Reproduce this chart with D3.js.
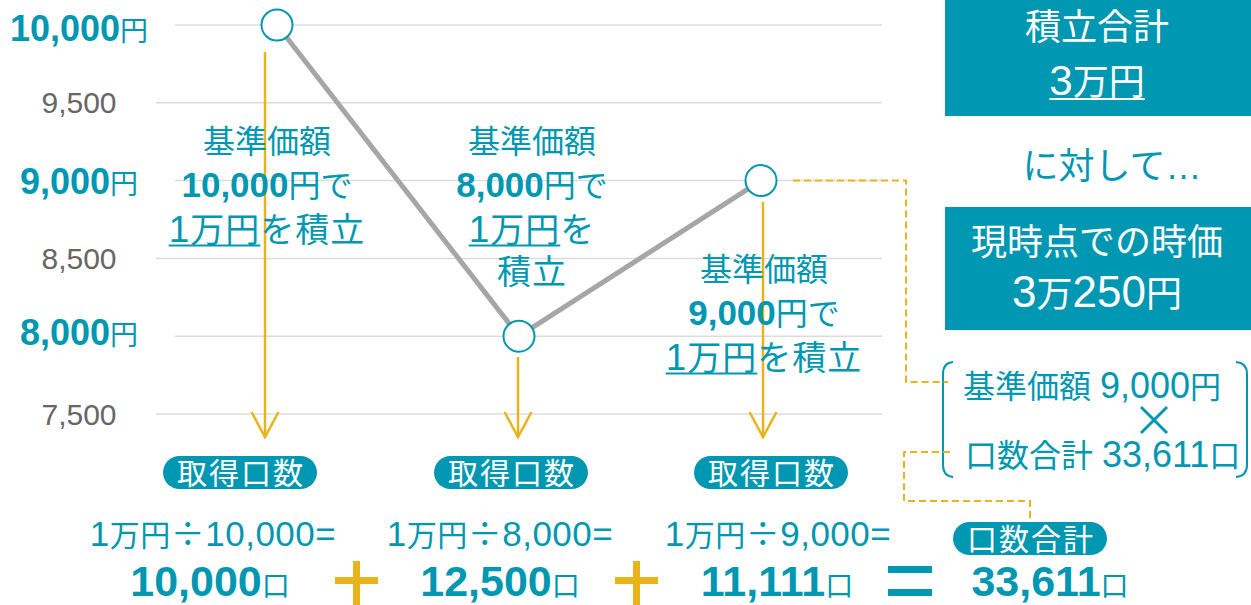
<!DOCTYPE html>
<html lang="ja">
<head>
<meta charset="utf-8">
<script src="https://cdn.jsdelivr.net/npm/d3@7"></script>
<style>
  html, body { margin: 0; padding: 0; background: #fff; }
  svg { display: block; }
  text { font-family: 'Liberation Sans', 'Noto Sans CJK JP', sans-serif; }
</style>
</head>
<body>
<svg id="chart" width="1251" height="605"></svg>
<script>
// ---------------- data ----------------
const purchases = ["1回目", "2回目", "3回目"];
const prices = [10000, 8000, 9000];          // 基準価額
const monthlyAmount = 10000;                 // 毎回の積立額（1万円）
const unitsBought = [10000, 12500, 11111];   // 取得口数
const totalUnits = 33611;                    // 口数合計
const totalInvested = 30000;                 // 積立合計
const currentValue = 30250;                  // 現時点での時価
const currentPrice = 9000;
const yTicks = [7500, 8000, 8500, 9000, 9500, 10000];
const highlightTicks = [8000, 9000, 10000];

// ---------------- styles / layout ----------------
const TEAL = "#0097b2";
const YELLOW = "#e9b31c";
const GRAY = "#a6a6a6";
const GRID = "#dcdcdc";
const CJK = "'Noto Sans CJK JP', sans-serif";

const svg = d3.select("#chart");

const x = d3.scalePoint().domain(purchases).range([277, 761]);
const y = d3.scaleLinear().domain([7500, 10000]).range([414, 25]);
const fmt = d3.format(",");
const man = v => ({ m: Math.floor(v / 10000), r: v % 10000 });

// rich text helper
function rich(g, px, py, parts, opts = {}) {
  const t = g.append("text")
    .attr("x", px).attr("y", py)
    .attr("text-anchor", opts.anchor || "middle")
    .attr("fill", opts.fill || TEAL);
  if (opts.ls) t.attr("letter-spacing", opts.ls);
  if (opts.family) t.attr("font-family", opts.family);
  parts.forEach(p => {
    const s = t.append("tspan").text(p.t).attr("font-size", p.size);
    if (p.bold) s.attr("font-weight", "bold");
    if (p.family) s.attr("font-family", p.family);
  });
  if (opts.underline) {
    const n = opts.underline;
    const node = t.node();
    const x0 = node.getStartPositionOfChar(0).x;
    const x1 = node.getEndPositionOfChar(n - 1).x;
    const uy = py + (opts.ulOff || 3.5);
    g.append("line")
      .attr("x1", x0).attr("x2", x1)
      .attr("y1", uy).attr("y2", uy)
      .attr("stroke", opts.fill || TEAL).attr("stroke-width", 2);
  }
  return t;
}

// ---------------- grid + y labels ----------------
const gGrid = svg.append("g");
gGrid.selectAll("line").data(yTicks).join("line")
  .attr("x1", d => highlightTicks.includes(d) ? 175 : 156)
  .attr("x2", 882)
  .attr("y1", d => y(d)).attr("y2", d => y(d))
  .attr("stroke", GRID).attr("stroke-width", 1.5);

const labelShift = { 10000: 3, 9000: 0, 8000: -4 };
const gY = svg.append("g");
yTicks.forEach(v => {
  if (highlightTicks.includes(v)) {
    rich(gY, 79, y(v) + 13 + labelShift[v], [
      { t: fmt(v), size: 36, bold: true },
      { t: "円", size: 28 }
    ]);
  } else {
    rich(gY, 79, y(v) + 10.5, [{ t: fmt(v), size: 30 }], { fill: "#666666" });
  }
});

// ---------------- arrows ----------------
const arrowOffset = [-12, -1, 2];
const arrowTop = [52, 357, 202];
const arrowTip = 437;
const gA = svg.append("g").attr("stroke", YELLOW).attr("stroke-width", 2.5).attr("fill", "none");
purchases.forEach((p, i) => {
  const ax = x(p) + arrowOffset[i];
  gA.append("line").attr("x1", ax).attr("x2", ax).attr("y1", arrowTop[i]).attr("y2", arrowTip);
  gA.append("path").attr("d", `M${ax - 13.5},${arrowTip - 25} L${ax},${arrowTip} L${ax + 13.5},${arrowTip - 25}`);
});

// ---------------- line + points ----------------
svg.append("path")
  .datum(prices)
  .attr("d", d3.line().x((d, i) => x(purchases[i])).y(d => y(d)))
  .attr("fill", "none").attr("stroke", GRAY).attr("stroke-width", 5);

svg.append("g").selectAll("circle").data(prices).join("circle")
  .attr("cx", (d, i) => x(purchases[i])).attr("cy", d => y(d)).attr("r", 15.5)
  .attr("fill", "#fff").attr("stroke", TEAL).attr("stroke-width", 2);

// ---------------- annotations ----------------
const annCX = [267, 532, 764];
const annY0 = [153, 153, 281];
const annLH = 44;
const annWrap = [false, true, false];
const gAnn = svg.append("g");
prices.forEach((pr, i) => {
  const cx = annCX[i], y0 = annY0[i];
  rich(gAnn, cx, y0, [{ t: "基準価額", size: 32 }]);
  rich(gAnn, cx, y0 + annLH, [
    { t: fmt(pr), size: 35, bold: true },
    { t: "円で", size: 32 }
  ]);
  const m = man(monthlyAmount).m;
  if (annWrap[i]) {
    rich(gAnn, cx, y0 + annLH * 2 + 1, [
      { t: String(m), size: 37 }, { t: "万円", size: 34 }, { t: "を", size: 34 }
    ], { underline: 3, ls: 1 });
    rich(gAnn, cx, y0 + annLH * 3 - 1, [{ t: "積立", size: 34 }], { ls: 1 });
  } else {
    rich(gAnn, cx, y0 + annLH * 2 + 1, [
      { t: String(m), size: 37 }, { t: "万円", size: 34 }, { t: "を積立", size: 34 }
    ], { underline: 3, ls: 1 });
  }
});

// ---------------- bottom: pills, formulas, results ----------------
const pillCX = [240, 511, 771];
const formulaCX = [213, 500, 778];
const resultCX = [210, 500, 777];
const gB = svg.append("g");

function pill(g, cx, cy, label) {
  g.append("rect").attr("x", cx - 77).attr("y", cy - 16.5).attr("width", 154).attr("height", 33)
    .attr("rx", 16.5).attr("fill", TEAL);
  rich(g, cx + 1, cy + 11.5, [{ t: label, size: 30 }], { fill: "#fff", ls: 2 });
}

purchases.forEach((p, i) => {
  pill(gB, pillCX[i], 472.5, "取得口数");
  rich(gB, formulaCX[i], 546, [
    { t: String(man(monthlyAmount).m), size: 35 },
    { t: "万円", size: 30 },
    { t: "÷", size: 34, family: CJK },
    { t: fmt(prices[i]) + "=", size: 35 }
  ], { ls: 0.5 });
  rich(gB, resultCX[i], 596, [
    { t: fmt(unitsBought[i]), size: 43, bold: true },
    { t: "口", size: 28 }
  ]);
});

// plus signs
const plusCX = [356.5, 636.5];
plusCX.forEach(cx => {
  gB.append("path")
    .attr("d", `M${cx - 21.5},580.5 H${cx + 21.5} M${cx},561 V605`)
    .attr("stroke", YELLOW).attr("stroke-width", 7).attr("fill", "none");
});
// equals sign
gB.append("path")
  .attr("d", `M888,569.5 H932 M888,592.5 H932`)
  .attr("stroke", TEAL).attr("stroke-width", 7).attr("fill", "none");

// total
pill(gB, 1030, 538.5, "口数合計");
rich(gB, 1050, 596, [
  { t: fmt(totalUnits), size: 43, bold: true },
  { t: "口", size: 28 }
]);

// ---------------- right boxes ----------------
const gR = svg.append("g");
gR.append("rect").attr("x", 945).attr("y", 0).attr("width", 306).attr("height", 116).attr("fill", TEAL);
rich(gR, 1097, 40, [{ t: "積立合計", size: 36 }], { fill: "#fff" });
const inv = man(totalInvested);
rich(gR, 1097, 95, [
  { t: String(inv.m), size: 42 }, { t: "万円", size: 36 }
], { fill: "#fff", underline: 3, ulOff: 4 });

rich(gR, 1112, 179, [{ t: "に対して…", size: 36 }], { family: CJK });

gR.append("rect").attr("x", 945).attr("y", 207).attr("width", 306).attr("height", 123).attr("fill", TEAL);
rich(gR, 1097, 255, [{ t: "現時点での時価", size: 36 }], { fill: "#fff" });
const cv = man(currentValue);
rich(gR, 1097, 307, [
  { t: String(cv.m), size: 44 }, { t: "万", size: 36 },
  { t: String(cv.r), size: 44 }, { t: "円", size: 36 }
], { fill: "#fff" });

// bracket formula
const gBr = svg.append("g");
gBr.append("path").attr("d", "M953,362 Q943,363 943,374 V465 Q943,476 953,477")
  .attr("fill", "none").attr("stroke", TEAL).attr("stroke-width", 2);
gBr.append("path").attr("d", "M1236,362 Q1247,363 1247,374 V465 Q1247,476 1236,477")
  .attr("fill", "none").attr("stroke", TEAL).attr("stroke-width", 2);
rich(gBr, 963, 398, [
  { t: "基準価額 ", size: 32 }, { t: fmt(currentPrice), size: 36 }, { t: "円", size: 31 }
], { anchor: "start" });
// multiplication sign (operator glyph drawn as a shape)
gBr.append("path").attr("d", "M1141,407 L1167,433 M1167,407 L1141,433")
  .attr("stroke", TEAL).attr("stroke-width", 3).attr("fill", "none");
rich(gBr, 965, 467, [
  { t: "口数合計 ", size: 32 }, { t: fmt(totalUnits), size: 36 }, { t: "口", size: 31 }
], { anchor: "start" });

// dashed connectors
const gD = svg.append("g").attr("fill", "none").attr("stroke", YELLOW)
  .attr("stroke-width", 2).attr("stroke-dasharray", "7,4");
gD.append("path").attr("d", `M${x(purchases[2]) + 32},${y(currentPrice)} H906 V382 H948`);
gD.append("path").attr("d", `M950,452 H904 V501 H1030 V521`);
</script>
</body>
</html>
